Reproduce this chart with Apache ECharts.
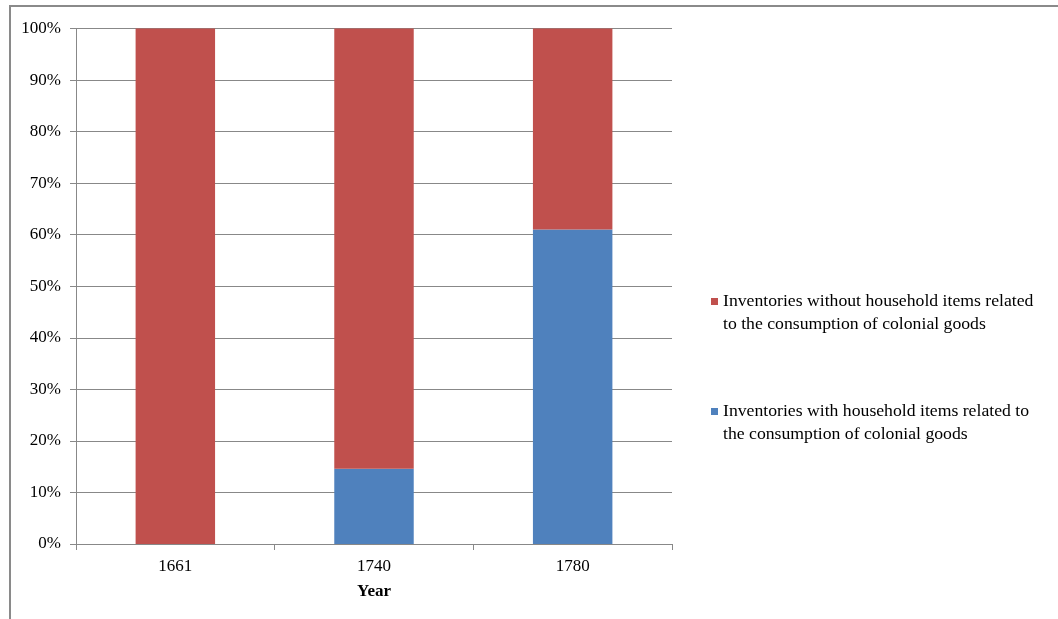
<!DOCTYPE html>
<html>
<head>
<meta charset="utf-8">
<script src="https://cdn.jsdelivr.net/npm/echarts@6/dist/echarts.min.js"></script>
<style>
  html, body { margin: 0; padding: 0; background: #fff; }
  #chart { width: 1058px; height: 619px; }
</style>
</head>
<body>
<div id="chart"></div>
<script>
// Share of probate inventories by year
const years = ['1661', '1740', '1780'];
const withColonialItems = [0, 14.6, 61];
const withoutColonialItems = [100, 85.4, 39];
const nameWithout = 'Inventories without household items related\nto the consumption of colonial goods';
const nameWith = 'Inventories with household items related to\nthe consumption of colonial goods';

const serif = '"Liberation Serif", "Times New Roman", serif';
const gridGray = '#888888';

const chart = echarts.init(document.getElementById('chart'));

// A blank leading line keeps the swatch level with the first text line
const legendText = {
  fontFamily: serif,
  fontSize: 17.7,
  color: '#000',
  lineHeight: 23
};
const legendLabel = name => '\u00a0\n' + name;

chart.setOption({
  animation: false,
  graphic: [{
    type: 'rect',
    shape: { x: 10, y: 6, width: 1200, height: 800 },
    style: { fill: 'none', stroke: '#8a8a8a', lineWidth: 2 },
    silent: true
  }],
  grid: { left: 76, right: 386, top: 28.5, bottom: 75 },
  legend: [{
    data: [nameWithout],
    left: 711,
    top: 267,
    padding: 0,
    itemWidth: 7,
    itemHeight: 7,
    itemGap: 0,
    icon: 'rect',
    formatter: legendLabel,
    textStyle: legendText
  }, {
    data: [nameWith],
    left: 711,
    top: 377,
    padding: 0,
    itemWidth: 7,
    itemHeight: 7,
    itemGap: 0,
    icon: 'rect',
    formatter: legendLabel,
    textStyle: legendText
  }],
  xAxis: {
    type: 'category',
    data: years,
    name: 'Year',
    nameLocation: 'middle',
    nameGap: 39,
    nameTextStyle: { fontFamily: serif, fontSize: 17, fontWeight: 'bold', color: '#000' },
    axisLine: { lineStyle: { color: gridGray, width: 1 } },
    axisTick: { show: true, length: 6, lineStyle: { color: gridGray } },
    axisLabel: { fontFamily: serif, fontSize: 17, color: '#000', margin: 14 }
  },
  yAxis: {
    type: 'value',
    min: 0,
    max: 100,
    interval: 10,
    axisLine: { show: true, lineStyle: { color: gridGray, width: 1 } },
    axisTick: { show: true, length: 6, lineStyle: { color: gridGray } },
    splitLine: { lineStyle: { color: gridGray, width: 1 } },
    axisLabel: {
      fontFamily: serif, fontSize: 17, color: '#000', margin: 15,
      formatter: '{value}%'
    }
  },
  series: [{
    name: nameWith,
    type: 'bar',
    stack: 'share',
    barWidth: '40%',
    itemStyle: { color: '#4F81BD' },
    data: withColonialItems
  }, {
    name: nameWithout,
    type: 'bar',
    stack: 'share',
    barWidth: '40%',
    itemStyle: { color: '#C0504D' },
    data: withoutColonialItems
  }]
});
</script>
</body>
</html>
